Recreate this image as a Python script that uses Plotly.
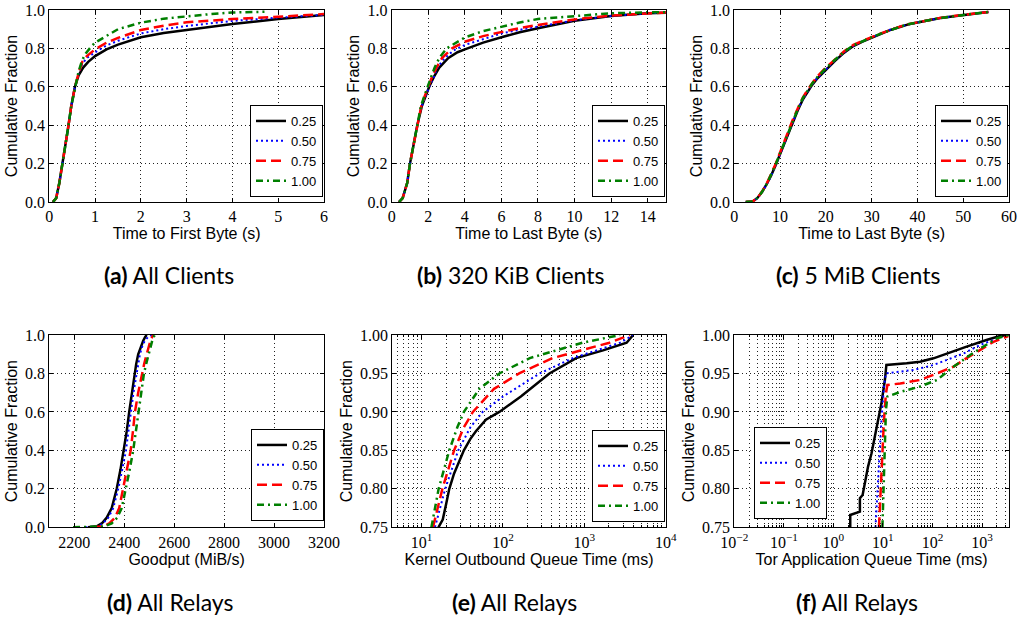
import plotly.graph_objects as go

W, H = 1020, 619

series_names = ["0.25", "0.50", "0.75", "1.00"]
colors = ["#000000", "#0000ff", "#ff0000", "#007f00"]
dashes = ["solid", "2px,3px", "10px,5px", "7px,4px,2px,4px"]
widths = [2.5, 2.0, 2.5, 2.5]

# (a) Time to first byte (s)
a_x = [
    [0.08, 0.15, 0.22, 0.29, 0.35, 0.42, 0.48, 0.56, 0.64, 0.74, 0.85, 1.0, 1.25, 1.5, 2.0, 2.5, 3.0, 4.0, 5.0, 6.0],
    [0.08, 0.15, 0.22, 0.29, 0.35, 0.42, 0.48, 0.56, 0.64, 0.72, 0.82, 1.0, 1.25, 1.5, 2.0, 2.5, 3.0, 4.0, 5.0, 6.0],
    [0.08, 0.15, 0.22, 0.29, 0.35, 0.42, 0.48, 0.56, 0.64, 0.72, 0.82, 1.0, 1.25, 1.5, 2.0, 2.5, 3.0, 4.0, 5.0, 6.0],
    [0.08, 0.15, 0.22, 0.29, 0.35, 0.42, 0.48, 0.56, 0.64, 0.72, 0.8, 0.9, 1.0, 1.5, 2.0, 2.5, 3.0, 3.5, 4.0, 4.7],
]
a_y = [
    [0, 0.02, 0.1, 0.2, 0.3, 0.4, 0.5, 0.6, 0.66, 0.7, 0.73, 0.76, 0.795, 0.82, 0.858, 0.88, 0.896, 0.927, 0.953, 0.974],
    [0, 0.02, 0.1, 0.2, 0.3, 0.4, 0.5, 0.6, 0.67, 0.72, 0.75, 0.78, 0.815, 0.84, 0.878, 0.9, 0.917, 0.943, 0.96, 0.974],
    [0, 0.02, 0.1, 0.2, 0.3, 0.4, 0.5, 0.6, 0.67, 0.73, 0.76, 0.795, 0.83, 0.855, 0.896, 0.918, 0.936, 0.953, 0.965, 0.979],
    [0, 0.02, 0.1, 0.2, 0.3, 0.4, 0.5, 0.6, 0.68, 0.74, 0.775, 0.805, 0.83, 0.9, 0.934, 0.955, 0.968, 0.978, 0.987, 0.991],
]

# (b) Time to last byte, 320 KiB (s)
b_x = [
    [0.4, 0.6, 0.85, 1.0, 1.2, 1.4, 1.65, 1.85, 2.05, 2.3, 2.6, 3.1, 3.6, 4.0, 5.0, 6.0, 7.0, 8.0, 10.0, 12.0, 14.0, 15.0],
    [0.4, 0.6, 0.85, 1.0, 1.2, 1.4, 1.65, 1.85, 2.05, 2.3, 2.5, 2.9, 3.4, 4.0, 5.0, 6.0, 7.0, 8.0, 10.0, 12.0, 14.0, 15.0],
    [0.4, 0.6, 0.85, 1.0, 1.2, 1.4, 1.62, 1.8, 2.0, 2.2, 2.45, 2.75, 3.3, 4.0, 5.0, 6.0, 7.0, 8.0, 10.0, 12.0, 14.0, 15.0],
    [0.4, 0.6, 0.85, 1.0, 1.2, 1.4, 1.6, 1.78, 1.95, 2.15, 2.35, 2.6, 3.0, 4.0, 5.0, 6.0, 7.0, 8.0, 10.0, 12.0, 14.0, 15.0],
]
b_y = [
    [0, 0.02, 0.1, 0.2, 0.3, 0.4, 0.5, 0.55, 0.6, 0.65, 0.7, 0.75, 0.78, 0.795, 0.83, 0.858, 0.884, 0.905, 0.944, 0.969, 0.983, 0.986],
    [0, 0.02, 0.1, 0.2, 0.3, 0.4, 0.5, 0.55, 0.6, 0.65, 0.7, 0.75, 0.79, 0.818, 0.85, 0.878, 0.897, 0.913, 0.946, 0.969, 0.983, 0.986],
    [0, 0.02, 0.1, 0.2, 0.3, 0.4, 0.5, 0.55, 0.6, 0.65, 0.7, 0.75, 0.8, 0.835, 0.864, 0.887, 0.906, 0.922, 0.951, 0.971, 0.984, 0.987],
    [0, 0.02, 0.1, 0.2, 0.3, 0.4, 0.5, 0.55, 0.6, 0.65, 0.7, 0.75, 0.8, 0.857, 0.89, 0.913, 0.935, 0.953, 0.969, 0.983, 0.988, 0.988],
]

# (c) Time to last byte, 5 MiB (s)
c_x = [2.5, 4, 5, 6, 7, 8, 9, 10, 11, 12, 13, 14, 15, 16, 17, 18, 20, 22, 24, 26, 28, 30, 32, 34, 36, 38, 40, 42, 45, 48, 51, 55.5]
c_y = [
    [0, 0.003, 0.02, 0.05, 0.09, 0.135, 0.19, 0.25, 0.31, 0.37, 0.43, 0.485, 0.535, 0.575, 0.61, 0.64, 0.69, 0.735, 0.778, 0.812, 0.835, 0.855, 0.875, 0.895, 0.91, 0.925, 0.935, 0.945, 0.958, 0.968, 0.977, 0.99],
    [0, 0.003, 0.018, 0.048, 0.088, 0.133, 0.188, 0.248, 0.31, 0.372, 0.432, 0.487, 0.537, 0.577, 0.612, 0.642, 0.692, 0.737, 0.78, 0.813, 0.837, 0.857, 0.877, 0.897, 0.912, 0.926, 0.936, 0.946, 0.958, 0.968, 0.977, 0.99],
    [0, 0.003, 0.02, 0.052, 0.092, 0.14, 0.196, 0.258, 0.32, 0.382, 0.442, 0.495, 0.545, 0.585, 0.62, 0.65, 0.7, 0.743, 0.785, 0.818, 0.84, 0.859, 0.878, 0.897, 0.912, 0.926, 0.936, 0.946, 0.959, 0.969, 0.978, 0.99],
    [0, 0.003, 0.02, 0.05, 0.09, 0.138, 0.193, 0.254, 0.316, 0.378, 0.438, 0.492, 0.542, 0.582, 0.617, 0.647, 0.697, 0.741, 0.783, 0.816, 0.838, 0.858, 0.877, 0.896, 0.911, 0.926, 0.936, 0.946, 0.958, 0.968, 0.977, 0.99],
]

# (d) Goodput (MiB/s)
d_y = [0, 0.005, 0.02, 0.05, 0.1, 0.2, 0.3, 0.4, 0.5, 0.6, 0.7, 0.8, 0.85, 0.9, 0.94, 0.97, 0.99, 1.0]
d_x = [
    [2255, 2290, 2310, 2330, 2350, 2370, 2385, 2399, 2410, 2420, 2430, 2440, 2448, 2456, 2466, 2476, 2484, 2490],
    [2245, 2295, 2315, 2336, 2356, 2376, 2392, 2407, 2417, 2426, 2437, 2450, 2457, 2463, 2472, 2482, 2496, 2510],
    [2270, 2315, 2340, 2363, 2380, 2396, 2412, 2426, 2435, 2443, 2456, 2470, 2480, 2490, 2498, 2505, 2512, 2517],
    [2195, 2320, 2350, 2372, 2390, 2407, 2422, 2436, 2446, 2456, 2467, 2479, 2488, 2497, 2505, 2512, 2518, 2523],
]

# (e) Kernel outbound queue time (ms)
e_x = [
    [16.1, 18.2, 20.0, 21.9, 25.1, 28.8, 33.1, 39.8, 46.5, 61.7, 90.2, 166, 372, 794, 1698, 3311, 3981],
    [14.6, 19.5, 28.2, 39.8, 56.2, 100, 282, 724, 2754, 3981],
    [13.8, 18.0, 25.1, 33.1, 42.7, 77.6, 158, 407, 2042, 3631],
    [13.2, 16.2, 21.9, 27.5, 33.1, 51.3, 90.2, 214, 955, 2754],
]
e_y = [
    [0.75, 0.76, 0.78, 0.80, 0.82, 0.835, 0.85, 0.865, 0.875, 0.89, 0.90, 0.92, 0.95, 0.97, 0.98, 0.99, 1.0],
    [0.75, 0.80, 0.85, 0.88, 0.90, 0.92, 0.95, 0.97, 0.99, 1.0],
    [0.75, 0.80, 0.85, 0.88, 0.90, 0.93, 0.95, 0.97, 0.99, 1.0],
    [0.75, 0.80, 0.85, 0.88, 0.90, 0.93, 0.95, 0.97, 0.99, 1.0],
]

# (f) Tor application queue time (ms)
f_x = [
    [2.19, 2.19, 3.43, 3.43, 3.89, 4.37, 5.01, 5.89, 6.92, 8.13, 9.33, 10.96, 11.75, 30.2, 56.2, 104.7, 195, 490, 1230, 2291, 3467],
    [7.08, 8.13, 9.33, 10.5, 11.5, 19.1, 41.7, 104.7, 195, 427, 912, 1995, 3162],
    [8.32, 9.33, 10.5, 11.5, 12.3, 22.4, 56.2, 123, 269, 490, 912, 1698, 3388],
    [9.77, 10.5, 11.5, 12.3, 22.4, 56.2, 123, 269, 575, 1072, 1995, 3388],
]
f_y = [
    [0.75, 0.766, 0.7704, 0.7877, 0.792, 0.8115, 0.8289, 0.8462, 0.8679, 0.8895, 0.9112, 0.9415, 0.961, 0.9632, 0.9653, 0.9697, 0.9762, 0.9848, 0.9935, 0.9987, 1.0],
    [0.75, 0.8245, 0.8895, 0.933, 0.95, 0.952, 0.9545, 0.961, 0.9675, 0.976, 0.987, 0.9957, 1.0],
    [0.75, 0.8245, 0.8895, 0.924, 0.935, 0.937, 0.9415, 0.95, 0.959, 0.97, 0.98, 0.991, 0.9987],
    [0.75, 0.8245, 0.9025, 0.92, 0.926, 0.933, 0.9415, 0.959, 0.974, 0.985, 0.9957, 1.0],
]

captions = ["(a)", "(b)", "(c)", "(d)", "(e)", "(f)"]
caption_texts = ["All Clients", "320 KiB Clients", "5 MiB Clients", "All Relays", "All Relays", "All Relays"]
x_titles = ["Time to First Byte (s)", "Time to Last Byte (s)", "Time to Last Byte (s)",
            "Goodput (MiB/s)", "Kernel Outbound Queue Time (ms)", "Tor Application Queue Time (ms)"]

panels = [
    ([a_x[i] for i in range(4)], a_y),
    ([b_x[i] for i in range(4)], b_y),
    ([c_x] * 4, c_y),
    (d_x, [d_y] * 4),
    (e_x, e_y),
    (f_x, f_y),
]

# pixel boxes of each plot area: (left, right, top, bottom)
boxes = [
    (49.3, 324.0, 10, 202), (391.7, 666.0, 10, 202), (734.3, 1009.0, 10, 202),
    (49.3, 324.0, 335, 527.3), (392.3, 665.7, 335, 527.3), (734.3, 1009.0, 335, 527.3),
]

fig = go.Figure()
for p, (xs, ys) in enumerate(panels):
    sfx = "" if p == 0 else str(p + 1)
    for i in range(4):
        fig.add_trace(go.Scatter(
            x=xs[i], y=ys[i], mode="lines", name=series_names[i],
            line=dict(color=colors[i], width=widths[i], dash=dashes[i]),
            xaxis="x" + sfx, yaxis="y" + sfx, legend="legend" + sfx,
            hoverinfo="skip",
        ))

tickfont = dict(family="Liberation Serif", size=16, color="black")
titlefont = dict(family="Liberation Sans", size=16, color="black")
grid = dict(showgrid=True, gridcolor="#222222", gridwidth=1, griddash="1px,3px",
            showline=True, linecolor="black", linewidth=1.2, mirror="ticks",
            ticks="inside", ticklen=4, tickcolor="black", zeroline=False,
            tickfont=tickfont, automargin=True)

x_ranges = [[0, 6], [0, 15], [0, 60], [2100, 3200], [0.64, 4.0], [-2, 3.545]]
x_dticks = [1, 2, 10, 200, None, None]

layout = dict(width=W, height=H, margin=dict(l=0, r=0, t=0, b=0, autoexpand=False),
              paper_bgcolor="white", plot_bgcolor="white", showlegend=True)

legend_pos = [
    (323 / W, 1 - 197 / H, "right"), (665 / W, 1 - 197 / H, "right"), (1008 / W, 1 - 197 / H, "right"),
    (324 / W, 1 - 521 / H, "right"), (665 / W, 1 - 522 / H, "right"), (754 / W, 1 - 519 / H, "left"),
]

for p in range(6):
    sfx = "" if p == 0 else str(p + 1)
    l, r, t, b = boxes[p]
    xa = dict(grid, domain=[l / W, r / W], anchor="y" + sfx, range=x_ranges[p],
              title=dict(text=x_titles[p], font=titlefont, standoff=0))
    if p >= 4:
        xa["type"] = "log"
        if p == 4:
            exps = [1, 2, 3, 4]
        else:
            exps = [-2, -1, 0, 1, 2, 3]
        xa["tickvals"] = [10.0 ** e for e in exps]
        xa["ticktext"] = ["10<sup>%s</sup>" % (str(e).replace("-", "\u2212")) for e in exps]
        xa["minor"] = dict(dtick="D1", showgrid=True, gridcolor="#222222", griddash="1px,3px",
                           gridwidth=1, ticks="inside", ticklen=2, tickcolor="black")
    else:
        xa["dtick"] = x_dticks[p]
        xa["tick0"] = 0
    ya = dict(grid, domain=[1 - b / H, 1 - t / H], anchor="x" + sfx,
              title=dict(text="Cumulative Fraction", font=titlefont, standoff=3))
    if p >= 4:
        ya.update(range=[0.75, 1.0], dtick=0.05, tick0=0.75, tickformat=".2f")
    else:
        ya.update(range=[0, 1.0], dtick=0.2, tick0=0, tickformat=".1f")
    layout["xaxis" + sfx] = xa
    layout["yaxis" + sfx] = ya
    lx, ly, anc = legend_pos[p]
    layout["legend" + sfx] = dict(x=lx, y=ly, xanchor=anc, yanchor="bottom",
                                  bgcolor="white", bordercolor="black", borderwidth=1,
                                  font=dict(family="Liberation Sans", size=13, color="black"),
                                  itemwidth=30, tracegroupgap=0)

fig.update_layout(**layout)

cap_x = [169, 511, 858, 170, 514, 857]
cap_y = [275, 275, 275, 602, 602, 602]
for p in range(6):
    fig.add_annotation(
        x=cap_x[p] / W, y=1 - cap_y[p] / H, xref="paper", yref="paper",
        text="<b>%s</b> %s" % (captions[p], caption_texts[p]), showarrow=False,
        xanchor="center", yanchor="middle",
        font=dict(family="Lato", size=23, color="black"),
    )

fig.write_html("out.html", config={"displayModeBar": False},
               post_script="document.body.style.margin='0px';document.body.style.overflow='hidden';")
